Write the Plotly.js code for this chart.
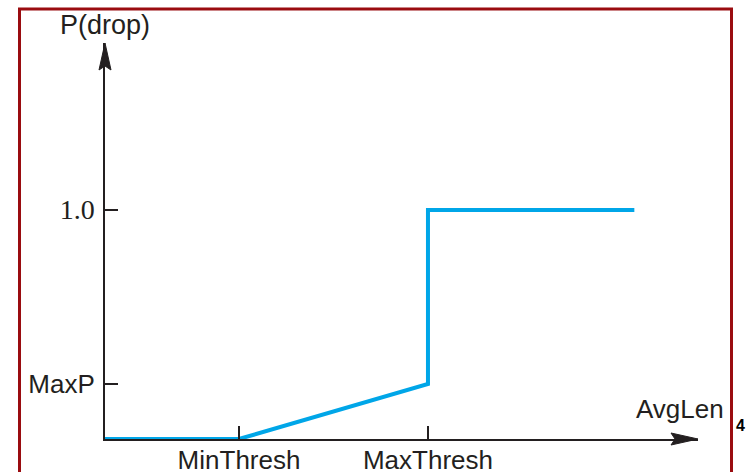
<!DOCTYPE html>
<html>
<head>
<meta charset="utf-8">
<script src="https://cdn.plot.ly/plotly-3.0.1.min.js"></script>
<style>html,body{margin:0;padding:0;background:#fff;}#chart{width:746px;height:472px;}</style>
</head>
<body>
<div id="chart"></div>
<script>
// Data (x in MinThresh units, y in probability)
const avgLen = [0, 1, 2.41, 2.41, 3.95];
const pDrop = [0, 0, 0.24, 1, 1];
const xTickVals = [1, 2.41];
const xTickText = ["MinThresh", "MaxThresh"];
const yTickVals = [0.24, 1.0];
const yTickText = ["MaxP", '<span style="font-family:\'Liberation Serif\',\'DejaVu Serif\',serif;font-size:28px">1.0</span>'];

const W = 746, H = 472;
const L = 105, R = 698, T = 43, B = 439;
const px = x => (x - L) / (R - L);
const py = y => (B - y) / (B - T);
const ink = "#231f20";
const sans = "'Liberation Sans', Arial, sans-serif";

const trace = {
  x: avgLen, y: pDrop, type: "scatter", mode: "lines",
  line: {color: "#00a6e8", width: 4}, cliponaxis: false, hoverinfo: "skip"
};

const layout = {
  width: W, height: H,
  margin: {l: L, r: W - R, t: T, b: H - B, pad: 0},
  paper_bgcolor: "#fff", plot_bgcolor: "#fff",
  showlegend: false,
  font: {family: sans, color: ink, size: 26},
  xaxis: {
    range: [0, 4.425], showgrid: false, zeroline: false,
    showline: true, linecolor: ink, linewidth: 2,
    ticks: "inside", ticklen: 13, tickwidth: 2, tickcolor: ink,
    tickvals: xTickVals, ticktext: xTickText, ticklabelstandoff: -3,
    tickfont: {family: sans, size: 26, color: ink},
    fixedrange: true, automargin: false
  },
  yaxis: {
    range: [0, 1.729], showgrid: false, zeroline: false,
    showline: true, linecolor: ink, linewidth: 2,
    ticks: "inside", ticklen: 13, tickwidth: 2, tickcolor: ink,
    tickvals: yTickVals, ticktext: yTickText, ticklabelstandoff: 3,
    tickfont: {family: sans, size: 26, color: ink},
    fixedrange: true, automargin: false
  },
  shapes: [
    {type: "rect", xref: "paper", yref: "paper",
     x0: px(19.5), x1: px(731.5), y0: py(490), y1: py(9),
     line: {color: "#9a0c10", width: 3}, fillcolor: "rgba(0,0,0,0)", layer: "below"},
    {type: "path", xref: "paper", yref: "paper",
     path: `M ${px(99)} ${py(70)} L ${px(105)} ${py(43)} L ${px(111)} ${py(70)} L ${px(105)} ${py(66)} Z`,
     fillcolor: ink, line: {color: ink, width: 1}},
    {type: "path", xref: "paper", yref: "paper",
     path: `M ${px(671)} ${py(433)} L ${px(698)} ${py(439)} L ${px(671)} ${py(445)} L ${px(675)} ${py(439)} Z`,
     fillcolor: ink, line: {color: ink, width: 1}}
  ],
  annotations: [
    {text: "P(drop)", xref: "paper", yref: "paper", x: px(105), y: py(25),
     xanchor: "center", yanchor: "middle", showarrow: false,
     font: {family: sans, size: 27, color: ink}},
    {text: "AvgLen", xref: "paper", yref: "paper", x: px(680), y: py(409),
     xanchor: "center", yanchor: "middle", showarrow: false,
     font: {family: sans, size: 26, color: ink}},
    {text: "<b>4</b>", xref: "paper", yref: "paper", x: px(740), y: py(425),
     xanchor: "center", yanchor: "middle", showarrow: false,
     font: {family: sans, size: 16, color: "#000"}}
  ]
};

Plotly.newPlot("chart", [trace], layout, {displayModeBar: false, staticPlot: true});
</script>
</body>
</html>
